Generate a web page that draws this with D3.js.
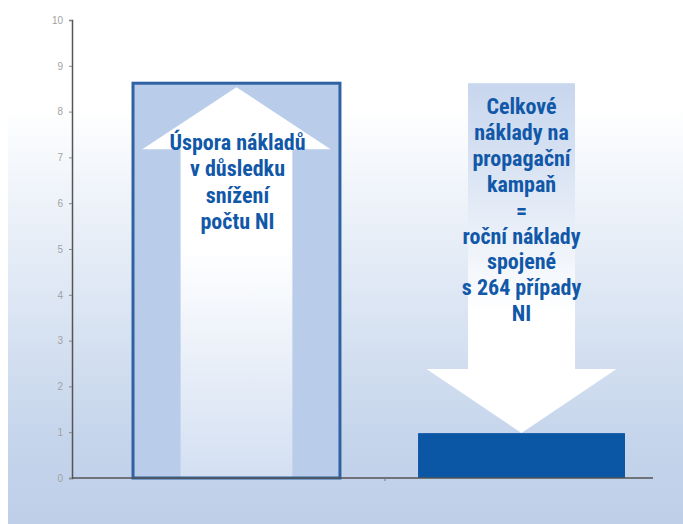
<!DOCTYPE html>
<meta charset="utf-8">
<style>
body { margin: 0; background: #fff; }
.ticks text { font: 10px "Liberation Sans", sans-serif; fill: #a2a2a2; }
.label { font-family: "Liberation Sans Narrow", "Roboto Condensed", "Liberation Sans", sans-serif; font-weight: bold; font-size: 22px; fill: #1158a8; }
</style>
<svg width="683" height="524"></svg>
<script src="https://d3js.org/d3.v7.min.js"></script>
<script>

// data
var categories = ["savings", "campaign"];
var values = [8.62, 0.98];
var yTicks = [0, 1, 2, 3, 4, 5, 6, 7, 8, 9, 10];
var leftLabel = ["Úspora nákladů", "v důsledku", "snížení", "počtu NI"];
var rightLabel = ["Celkové", "náklady na", "propagační", "kampaň", "=", "roční náklady", "spojené", "s 264 případy", "NI"];

var svg = d3.select("svg");

var y = d3.scaleLinear().domain([0, 10]).range([478, 20]);
var x = d3.scaleBand().domain(categories).range([72, 686])
    .paddingInner(0.274).paddingOuter(0.214);

var defs = svg.append("defs");

var bg = defs.append("linearGradient").attr("id", "bg")
    .attr("x1", 0).attr("y1", 0).attr("x2", 0).attr("y2", 1);
bg.append("stop").attr("offset", "0.2").attr("stop-color", "#ffffff");
bg.append("stop").attr("offset", "0.5").attr("stop-color", "#e3ebf6");
bg.append("stop").attr("offset", "0.85").attr("stop-color", "#c4d4eb");
bg.append("stop").attr("offset", "1").attr("stop-color", "#bfcfe8");

var upShaft = defs.append("linearGradient").attr("id", "upShaft")
    .attr("x1", 0).attr("y1", 0).attr("x2", 0).attr("y2", 1);
upShaft.append("stop").attr("offset", "0.3").attr("stop-color", "#ffffff");
upShaft.append("stop").attr("offset", "1").attr("stop-color", "#d3dff2");

var downShaft = defs.append("linearGradient").attr("id", "downShaft")
    .attr("x1", 0).attr("y1", 0).attr("x2", 0).attr("y2", 1);
downShaft.append("stop").attr("offset", "0").attr("stop-color", "#c8d6ee");
downShaft.append("stop").attr("offset", "0.25").attr("stop-color", "#d6e1f2");
downShaft.append("stop").attr("offset", "0.8").attr("stop-color", "#ffffff");

svg.append("rect").attr("x", 8).attr("y", 0).attr("width", 675).attr("height", 524)
  .attr("fill", "url(#bg)");

// bar 1 : outlined bar with up arrow
var b0 = categories[0], bw = x.bandwidth();
var top0 = y(values[0]);
svg.append("rect")
  .attr("x", x(b0)).attr("y", top0).attr("width", bw).attr("height", y(0) - top0)
  .attr("fill", "#b9cdea");

var cx0 = x(b0) + bw / 2;
var headW = bw * 0.91, shaftW = bw * 0.54, headH = 62;
var tipY = top0 + 4;
svg.append("rect")
  .attr("x", cx0 - shaftW / 2).attr("y", tipY + headH - 1)
  .attr("width", shaftW).attr("height", y(0) - tipY - headH + 1)
  .attr("fill", "url(#upShaft)");
svg.append("path")
  .attr("d", d3.line()([[cx0, tipY], [cx0 + headW / 2, tipY + headH], [cx0 - headW / 2, tipY + headH]]))
  .attr("fill", "#ffffff");

svg.append("rect")
  .attr("x", x(b0)).attr("y", top0).attr("width", bw).attr("height", y(0) - top0)
  .attr("fill", "none").attr("stroke", "#2f62a3").attr("stroke-width", 3);

// bar 2 : solid bar with down arrow from the level of bar 1
var b1 = categories[1];
var top1 = y(values[1]);
var cx1 = x(b1) + bw / 2;
var dShaftW = 107, dHeadW = 190, dHeadH = 64;
svg.append("rect")
  .attr("x", cx1 - dShaftW / 2).attr("y", top0)
  .attr("width", dShaftW).attr("height", top1 - dHeadH - top0 + 1)
  .attr("fill", "url(#downShaft)");
svg.append("path")
  .attr("d", d3.line()([[cx1 - dHeadW / 2, top1 - dHeadH], [cx1 + dHeadW / 2, top1 - dHeadH], [cx1, top1]]))
  .attr("fill", "#ffffff");

svg.append("rect")
  .attr("x", x(b1)).attr("y", top1).attr("width", bw).attr("height", y(0) - top1)
  .attr("fill", "#0b57a6");

// axes
var yAxis = svg.append("g").attr("class", "ticks")
  .attr("transform", "translate(72,0)")
  .call(d3.axisLeft(y).tickValues(yTicks).tickSize(3).tickPadding(6));
yAxis.select(".domain").attr("stroke", "#555").attr("stroke-width", 1.5);
yAxis.selectAll(".tick line").attr("stroke", "#888");

svg.append("line").attr("x1", 72).attr("x2", 653).attr("y1", y(0)).attr("y2", y(0))
  .attr("stroke", "#555").attr("stroke-width", 1.5);
svg.append("line").attr("x1", 385).attr("x2", 385).attr("y1", y(0)).attr("y2", y(0) + 3)
  .attr("stroke", "#777");

// labels
svg.append("text").attr("class", "label").attr("text-anchor", "middle")
  .selectAll("tspan").data(leftLabel).join("tspan")
  .attr("x", cx0 + 1).attr("y", function(d, i) { return 150 + i * 26.3; })
  .text(function(d) { return d; });

svg.append("text").attr("class", "label").attr("text-anchor", "middle")
  .selectAll("tspan").data(rightLabel).join("tspan")
  .attr("x", cx1).attr("y", function(d, i) { return 114 + i * 25.9; })
  .text(function(d) { return d; });

</script>
